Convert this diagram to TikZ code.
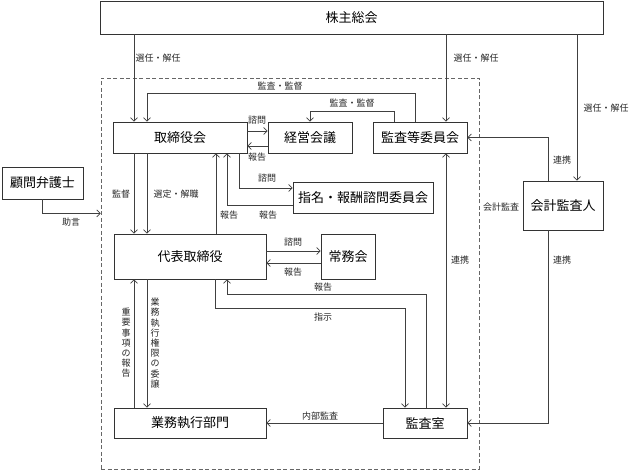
\documentclass[tikz,border=0pt]{standalone}
\usepackage{fontspec}
\newfontfamily\jp{Noto Sans CJK JP}
\usetikzlibrary{arrows.meta}
\begin{document}
\begin{tikzpicture}[x=1pt,y=-1pt,
  line/.style={draw=black!75, line width=0.7pt},
  arr/.style={line, -{Straight Barb[length=3.5pt,width=7pt]}},
  dbl/.style={line, {Straight Barb[length=3.5pt,width=7pt]}-{Straight Barb[length=3.5pt,width=7pt]}},
  box/.style={draw=black!80, line width=0.8pt, font=\jp\fontsize{13}{15}\selectfont, inner sep=0pt, fill=white},
  lbl/.style={font=\jp\fontsize{9}{10}\selectfont, inner sep=1pt, text=black!85},
  vlbl/.style={lbl, align=center, font=\jp\fontsize{9}{10.2}\selectfont},
]
\useasboundingbox (0,0) rectangle (630,470);
% dashed group
\node[draw=black!60, dash pattern=on 4pt off 2.5pt, line width=0.7pt, minimum width=378pt, minimum height=391pt, inner sep=0pt] (group) at (290,273.5) {};
% boxes
\node[box, minimum width=503pt, minimum height=33pt] (kabu) at (351.5,17.5) {株主総会};
\node[box, minimum width=134pt, minimum height=31pt] (torishimari) at (180,137.5) {取締役会};
\node[box, minimum width=84pt, minimum height=31pt] (keiei) at (310,137.5) {経営会議};
\node[box, minimum width=94pt, minimum height=31pt] (kansa) at (420,137.5) {監査等委員会};
\node[box, minimum width=140pt, minimum height=31pt] (shimei) at (363,197.5) {指名・報酬諮問委員会};
\node[box, minimum width=152pt, minimum height=45pt] (daihyo) at (190,256.5) {代表取締役};
\node[box, minimum width=54pt, minimum height=45pt] (jomu) at (348,256.5) {常務会};
\node[box, minimum width=152pt, minimum height=30pt] (gyomu) at (190,423) {業務執行部門};
\node[box, minimum width=84pt, minimum height=30pt] (kansashitsu) at (425,423) {監査室};
\node[box, minimum width=81pt, minimum height=32pt] (komon) at (42.5,183) {顧問弁護士};
\node[box, minimum width=80pt, minimum height=49pt] (kaikei) at (563,205.5) {会計監査人};
% ports
\coordinate (tA) at ([xshift=-46pt]torishimari.north);
\coordinate (tB) at ([xshift=-33pt]torishimari.north);
\coordinate (tS1) at ([xshift=-46pt]torishimari.south);
\coordinate (tS2) at ([xshift=-33pt]torishimari.south);
\coordinate (tS4) at ([xshift=47pt]torishimari.south);
\coordinate (tS5) at ([xshift=59pt]torishimari.south);
\coordinate (tE1) at ([yshift=6.5pt]torishimari.east);
\coordinate (kW2) at ([yshift=-8.5pt]keiei.west);
\coordinate (kA) at ([xshift=-5pt]kansa.north);
\coordinate (kB) at ([xshift=-26pt]kansa.north);
\coordinate (kC) at ([xshift=26pt]kansa.north);
\coordinate (kD) at ([xshift=26pt]kansa.south);
\coordinate (sW1) at ([yshift=9.5pt]shimei.west);
\coordinate (sW2) at ([yshift=-7.5pt]shimei.west);
\coordinate (dN3) at ([xshift=26pt]daihyo.north);
\coordinate (dS2) at ([xshift=-43pt]daihyo.south);
\coordinate (dS3) at ([xshift=25pt]daihyo.south);
\coordinate (dS4) at ([xshift=37pt]daihyo.south);
\coordinate (dE1) at ([yshift=5.5pt]daihyo.east);
\coordinate (jW2) at ([yshift=-6.5pt]jomu.west);
\coordinate (ksN1) at ([xshift=-20pt]kansashitsu.north);
\coordinate (ksN2) at ([xshift=1pt]kansashitsu.north);
\coordinate (gN1) at ([xshift=-56pt]gyomu.north);
\coordinate (kkN) at ([xshift=-15pt]kaikei.north);
\coordinate (kkN2) at ([xshift=14pt]kaikei.north);
\coordinate (kkS) at ([xshift=-15pt]kaikei.south);
% connectors
\draw[arr] (tA |- kabu.south) -- (tA);
\draw[arr] (kC |- kabu.south) -- (kC);
\draw[arr] (kkN2 |- kabu.south) -- (kkN2);
\draw[arr] (kA) -- ++(0,-28) -| (tB);
\draw[arr] (kB) -- ++(0,-10) -| (keiei.north);
\draw[arr] (tE1) -- (tE1 -| keiei.west);
\draw[arr] (kW2) -- (kW2 -| torishimari.east);
\draw[arr] (tS5) |- (sW1);
\draw[arr] (sW2) -| (tS4);
\draw[arr] (dN3) -- (dN3 |- torishimari.south);
\draw[arr] (tS1) -- (tS1 |- daihyo.north);
\draw[arr] (tS2) -- (tS2 |- daihyo.north);
\draw[arr] (dE1) -- (dE1 -| jomu.west);
\draw[arr] (jW2) -- (jW2 -| daihyo.east);
\draw[arr] (ksN2) -- ++(0,-113) -| (dS4);
\draw[arr] (dS3) -- ++(0,29) -| (ksN1);
\draw[arr] (gN1) -- (gN1 |- daihyo.south);
\draw[arr] (dS2) -- (dS2 |- gyomu.north);
\draw[dbl] (kD) -- (kD |- kansashitsu.north);
\draw[arr] (kansashitsu.west) -- (gyomu.east);
\draw[arr] (kkN) |- (kansa.east);
\draw[arr] (kkS) |- (kansashitsu.east);
\draw[arr] (komon.south) -- ++(0,14) coordinate (advc) -- (advc -| group.west);
% labels
\node[lbl] (l1) at (158,58) {選任・解任};
\node[lbl] (l2) at (476,58) {選任・解任};
\node[lbl] (l3) at (606,108) {選任・解任};
\node[lbl] (l4) at (280,86) {監査・監督};
\node[lbl] (l5) at (352,103) {監査・監督};
\node[lbl] (l6) at (257,120) {諮問};
\node[lbl] (l7) at (257,157) {報告};
\node[lbl] (l8) at (267,178) {諮問};
\node[lbl] (l9) at (268,215) {報告};
\node[lbl] (l10) at (229,215) {報告};
\node[lbl] (l11) at (121,194) {監督};
\node[lbl] (l12) at (176,194) {選定・解職};
\node[lbl] (l13) at (293,242) {諮問};
\node[lbl] (l14) at (293,272) {報告};
\node[lbl] (l15) at (323,287) {報告};
\node[lbl] (l16) at (323,317) {指示};
\node[vlbl] (l17) at (126,343) {重\\要\\事\\項\\の\\報\\告};
\node[vlbl] (l18) at (155,343) {業\\務\\執\\行\\権\\限\\の\\委\\譲};
\node[lbl] (l19) at (460,260) {連携};
\node[lbl] (l20) at (320,416) {内部監査};
\node[lbl] (l21) at (562,160) {連携};
\node[lbl] (l22) at (562,260) {連携};
\node[lbl] (l23) at (71,222) {助言};
\node[lbl] (l24) at (501,207) {会計監査};
\end{tikzpicture}
\end{document}
